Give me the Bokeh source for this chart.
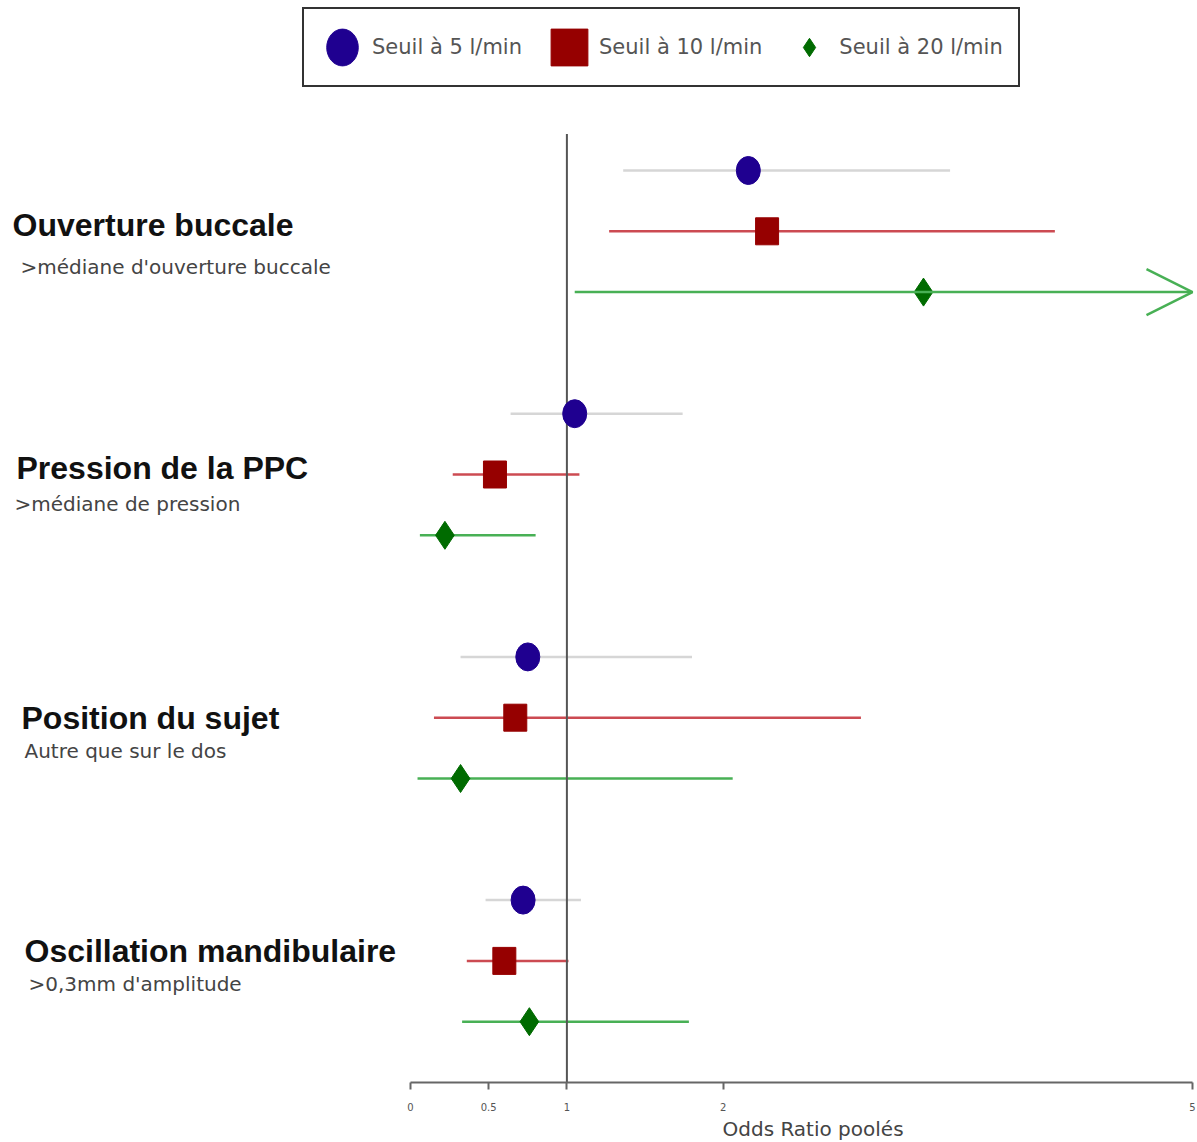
from bokeh.plotting import figure
from bokeh.models import (Range1d, FixedTicker, NumeralTickFormatter, Label, Legend,
                          LegendItem, Arrow, OpenHead, ColumnDataSource, Title)
from bokeh.embed import file_html
from bokeh.resources import INLINE

# ---------------- data ----------------
groups = ["Ouverture buccale", "Pression de la PPC", "Position du sujet", "Oscillation mandibulaire"]
subtitles = [">médiane d'ouverture buccale", ">médiane de pression", "Autre que sur le dos", ">0,3mm d'amplitude"]
series = ["Seuil à 5 l/min", "Seuil à 10 l/min", "Seuil à 20 l/min"]
ticks = [0, 0.5, 1, 2, 5]
x_title = "Odds Ratio poolés"
null_value = 1
axis_max = 5

or5 = [2.16, 1.05, 0.75, 0.72]
lo5 = [1.36, 0.64, 0.32, 0.48]
hi5 = [3.45, 1.74, 1.80, 1.09]

or10 = [2.28, 0.54, 0.67, 0.60]
lo10 = [1.27, 0.27, 0.15, 0.36]
hi10 = [4.12, 1.08, 2.88, 1.01]

or20 = [3.28, 0.22, 0.32, 0.76]
lo20 = [1.05, 0.06, 0.045, 0.33]
hi20 = [None, 0.80, 2.06, 1.78]   # None: upper bound beyond the axis (arrow)

# ---------------- layout / style ----------------
W, H = 1197, 1142
k = 156.4          # px per unit
x0_px = 410        # figure px of OR = 0
row_px = 60.8
row0_px = 170      # figure px of first row
frame_bottom = 1082

x_range = Range1d(-x0_px / k, (W - x0_px) / k)
y_range = Range1d((frame_bottom - row0_px) / row_px, -row0_px / row_px)

p = figure(width=W, height=H, x_range=x_range, y_range=y_range,
           output_backend="svg", toolbar_location=None,
           y_axis_location=None, x_axis_location="below",
           min_border_left=0, min_border_right=0, min_border_top=0,
           min_border_bottom=H - frame_bottom)
p.outline_line_color = None
p.grid.grid_line_color = None
p.background_fill_color = "white"

ax = p.xaxis[0]
ax.ticker = FixedTicker(ticks=ticks)
ax.formatter = NumeralTickFormatter(format="0.[0]")
ax.bounds = (0, axis_max)
ax.axis_line_color = "#666666"
ax.axis_line_width = 2
ax.major_tick_line_color = "#666666"
ax.major_tick_line_width = 2
ax.major_tick_out = 7
ax.major_tick_in = 0
ax.minor_tick_line_color = None
ax.major_label_text_font = "DejaVu Sans"
ax.major_label_text_font_size = "10px"
ax.major_label_text_color = "#555555"
ax.major_label_standoff = 13

p.add_layout(Title(text=x_title, align="left", offset=722, standoff=3,
                   text_font="DejaVu Sans", text_font_style="normal",
                   text_font_size="20px", text_color="#444444"), "below")

colors_line = ["#d6d6d6", "#cc4b52", "#48b055"]
colors_mark = ["#1f0090", "#960000", "#006b00"]

ors = [or5, or10, or20]
los = [lo5, lo10, lo20]
his = [hi5, hi10, hi20]

# CI lines
for s in range(3):
    xs0, xs1, ys = [], [], []
    for g in range(4):
        if his[s][g] is None:
            continue
        xs0.append(los[s][g]); xs1.append(his[s][g]); ys.append(4 * g + s)
    p.segment(x0=xs0, y0=ys, x1=xs1, y1=ys, line_color=colors_line[s], line_width=2.5)

# open-ended CI -> arrow
for s in range(3):
    for g in range(4):
        if his[s][g] is None:
            p.add_layout(Arrow(x_start=los[s][g], y_start=4 * g + s, x_end=axis_max, y_end=4 * g + s,
                               line_color=colors_line[s], line_width=2.5,
                               end=OpenHead(size=46, line_color=colors_line[s], line_width=2.5)))

# reference line at OR = 1
p.segment(x0=[null_value], y0=[-0.6], x1=[null_value], y1=[y_range.start],
          line_color="#555555", line_width=2)

# point estimates
src = [ColumnDataSource(dict(x=ors[s], y=[4 * g + s for g in range(4)])) for s in range(3)]
r5 = p.ellipse(x="x", y="y", width=24, height=28, width_units="screen", height_units="screen",
               source=src[0], fill_color=colors_mark[0], line_color=colors_mark[0])
r10 = p.rect(x="x", y="y", width=23, height=27, width_units="screen", height_units="screen",
             source=src[1], fill_color=colors_mark[1], line_color=colors_mark[1])
r20 = p.scatter(x="x", y="y", marker="diamond", size=28, source=src[2],
                fill_color=colors_mark[2], line_color=colors_mark[2])

legend = Legend(items=[LegendItem(label=series[0], renderers=[r5]),
                       LegendItem(label=series[1], renderers=[r10]),
                       LegendItem(label=series[2], renderers=[r20])],
                orientation="horizontal", location=(302, frame_bottom - 87),
                glyph_width=46, glyph_height=46, padding=15, spacing=24,
                label_standoff=7, margin=0,
                label_text_font="DejaVu Sans", label_text_font_size="21px",
                label_text_color="#555555",
                border_line_color="#333333", border_line_width=2.5, border_line_alpha=1,
                background_fill_color="white", background_fill_alpha=1)
p.add_layout(legend)

# group labels
title_indent = [12, 16, 21, 24]
sub_indent = [20, 14, 24, 28]
title_dy = [-0.11, -0.1, 0.0, -0.16]
sub_dy = [0.58, 0.48, 0.54, 0.38]
for g in range(4):
    p.add_layout(Label(x=title_indent[g], x_units="screen", y=4 * g + 1 + title_dy[g], y_units="data",
                       text=groups[g], text_font="Liberation Sans", text_font_style="bold",
                       text_font_size="32px", text_color="#111111", text_baseline="middle"))
    p.add_layout(Label(x=sub_indent[g], x_units="screen", y=4 * g + 1 + sub_dy[g], y_units="data",
                       text=subtitles[g], text_font="DejaVu Sans",
                       text_font_size="20px", text_color="#444444", text_baseline="middle"))

open("out.html", "w").write(file_html(p, INLINE))
